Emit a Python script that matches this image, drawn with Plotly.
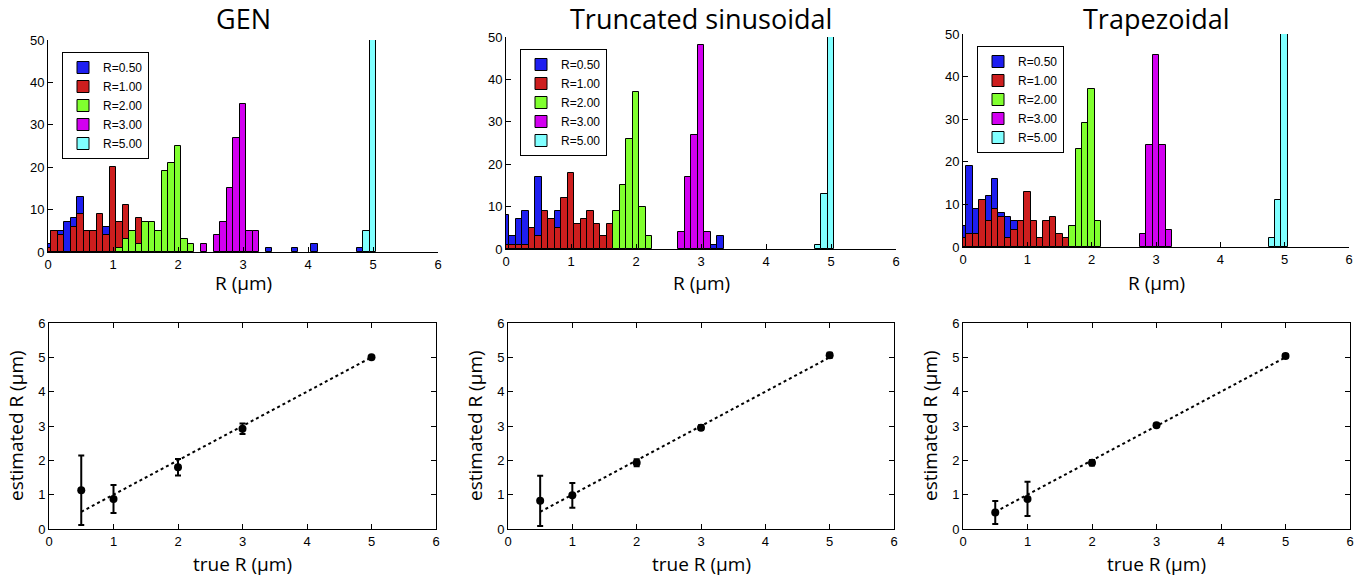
import plotly.graph_objects as go

W, H = 1368, 579

LABELS = ["R=0.50", "R=1.00", "R=2.00", "R=3.00", "R=5.00"]
COLORS = ["#1e1ef0", "#cd1e1e", "#80ff2e", "#d200f0", "#80ffff"]
PANEL_TITLES = ["GEN", "Truncated sinusoidal", "Trapezoidal"]

# histogram counts, bin centres in um (bin width 0.1)
gen_hist = {
    "R=0.50": ([0.0, 0.1, 0.2, 0.3, 0.4, 0.5, 0.6, 0.7, 0.8, 0.9, 1.0, 1.1, 1.2, 3.4, 3.8, 4.1, 4.8],
               [2, 5, 5, 7, 8, 13, 4, 5, 8, 6, 12, 5, 4, 1, 1, 2, 1]),
    "R=1.00": ([0.0, 0.1, 0.2, 0.4, 0.5, 0.6, 0.7, 0.8, 0.9, 1.0, 1.1, 1.2, 1.3, 1.4, 1.5],
               [1, 5, 4, 6, 9, 5, 5, 9, 4, 20, 7, 11, 3, 8, 3]),
    "R=2.00": ([1.1, 1.2, 1.3, 1.4, 1.5, 1.6, 1.7, 1.8, 1.9, 2.0, 2.1, 2.2],
               [1, 3, 5, 2, 7, 7, 5, 19, 21, 25, 3, 2]),
    "R=3.00": ([2.4, 2.6, 2.7, 2.8, 2.9, 3.0, 3.1, 3.2],
               [2, 4, 7, 15, 27, 35, 5, 5]),
    "R=5.00": ([4.9, 5.0], [5, 95]),
}
trunc_hist = {
    "R=0.50": ([0.0, 0.1, 0.2, 0.3, 0.4, 0.5, 0.6, 0.7, 0.8, 0.9, 1.0, 1.1, 1.2, 3.2, 3.3],
               [8, 3, 7, 9, 5, 17, 8, 6, 9, 10, 8, 4, 2, 1, 3]),
    "R=1.00": ([0.0, 0.1, 0.2, 0.3, 0.4, 0.5, 0.6, 0.7, 0.8, 0.9, 1.0, 1.1, 1.2, 1.3, 1.4, 1.5, 1.6],
               [1, 1, 1, 1, 5, 3, 9, 7, 5, 12, 18, 6, 7, 9, 6, 3, 6]),
    "R=2.00": ([1.7, 1.8, 1.9, 2.0, 2.1, 2.2], [9, 15, 26, 37, 10, 3]),
    "R=3.00": ([2.7, 2.8, 2.9, 3.0, 3.1], [4, 17, 27, 48, 4]),
    "R=5.00": ([4.8, 4.9, 5.0], [1, 13, 86]),
}
trap_hist = {
    "R=0.50": ([0.0, 0.1, 0.2, 0.3, 0.4, 0.5, 0.6, 0.7, 0.8, 0.9, 1.0],
               [5, 19, 9, 10, 12, 16, 8, 7, 6, 5, 3]),
    "R=1.00": ([0.0, 0.1, 0.2, 0.3, 0.4, 0.5, 0.6, 0.7, 0.8, 0.9, 1.0, 1.1, 1.2, 1.3, 1.4, 1.5, 1.6],
               [2, 3, 3, 11, 6, 9, 7, 2, 4, 6, 13, 6, 2, 6, 7, 3, 2]),
    "R=2.00": ([1.7, 1.8, 1.9, 2.0, 2.1], [5, 23, 29, 37, 6]),
    "R=3.00": ([2.8, 2.9, 3.0, 3.1, 3.2], [3, 24, 45, 24, 4]),
    "R=5.00": ([4.8, 4.9, 5.0], [2, 11, 87]),
}

# estimated vs true radius, mean and error bar half-length
true_r = [0.5, 1, 2, 3, 5]
gen_est = [1.13, 0.875, 1.80, 2.92, 5.00]
gen_err = [1.01, 0.41, 0.24, 0.15, 0.03]
trunc_est = [0.82, 0.98, 1.93, 2.95, 5.06]
trunc_err = [0.73, 0.36, 0.10, 0.07, 0.07]
trap_est = [0.48, 0.875, 1.93, 3.02, 5.04]
trap_err = [0.335, 0.50, 0.08, 0.05, 0.05]

x_ticks = [0, 1, 2, 3, 4, 5, 6]
hist_y_ticks = [0, 10, 20, 30, 40, 50]
est_y_ticks = [0, 1, 2, 3, 4, 5, 6]


def px_x(a, b):
    return [a / W, b / W]


def px_y(top, bottom):
    return [1 - bottom / H, 1 - top / H]


# pixel boxes of the six axes
top_boxes = [((48, 438), (40, 252)), ((506, 896), (37, 249)), ((963, 1349), (34, 247))]
bot_boxes = [((49, 436), (323, 529)), ((508, 894), (323, 529)), ((963, 1350), (323, 529))]

tick_font = dict(family="Liberation Sans, Arial", size=13, color="black")
label_font = dict(family="Open Sans", size=19, color="black")

fig = go.Figure()

hists = [gen_hist, trunc_hist, trap_hist]
for p, hist in enumerate(hists):
    ax = "" if p == 0 else str(p + 1)
    leg = "legend" if p == 0 else "legend" + str(p + 1)
    for lab, col in zip(LABELS, COLORS):
        xs, ns = hist[lab]
        fig.add_trace(go.Bar(
            x=xs, y=ns, width=0.1, name=lab,
            marker=dict(color=col, line=dict(color="black", width=1)),
            xaxis="x" + ax, yaxis="y" + ax, legend=leg,
        ))

ests = [(gen_est, gen_err), (trunc_est, trunc_err), (trap_est, trap_err)]
for p, (est, err) in enumerate(ests):
    ax = str(p + 4)
    fig.add_trace(go.Scatter(
        x=true_r, y=true_r, mode="lines",
        line=dict(color="black", width=2, dash="dot"),
        xaxis="x" + ax, yaxis="y" + ax, showlegend=False,
    ))
    fig.add_trace(go.Scatter(
        x=true_r, y=est, mode="markers",
        marker=dict(color="black", size=8),
        error_y=dict(type="data", array=err, color="black", thickness=2, width=3),
        xaxis="x" + ax, yaxis="y" + ax, showlegend=False,
    ))

layout = dict(
    template="none",
    width=W, height=H,
    margin=dict(l=0, r=0, t=0, b=0, autoexpand=False),
    paper_bgcolor="white", plot_bgcolor="white",
    barmode="overlay", bargap=0,
    showlegend=True,
)

axis_common = dict(
    showline=True, linecolor="black", linewidth=1, ticks="inside", ticklen=5,
    tickcolor="black", showgrid=False, zeroline=False, tickfont=tick_font,
    automargin=False,
)

for p, ((xa, xb), (yt, yb)) in enumerate(top_boxes):
    n = "" if p == 0 else str(p + 1)
    layout["xaxis" + n] = dict(domain=px_x(xa, xb), range=[0, 6], tickvals=x_ticks,
                               anchor="y" + n, **axis_common)
    layout["yaxis" + n] = dict(domain=px_y(yt, yb), range=[0, 50], tickvals=hist_y_ticks,
                               anchor="x" + n, **axis_common)
    leg = "legend" if p == 0 else "legend" + str(p + 1)
    layout[leg] = dict(
        x=(xa + 14) / W, y=1 - (yt + 12) / H, xanchor="left", yanchor="top",
        bgcolor="white", bordercolor="black", borderwidth=1,
        font=dict(family="Liberation Sans, Arial", size=12, color="black"),
        traceorder="normal", tracegroupgap=0, itemwidth=30,
    )

for p, ((xa, xb), (yt, yb)) in enumerate(bot_boxes):
    n = str(p + 4)
    layout["xaxis" + n] = dict(domain=px_x(xa, xb), range=[0, 6], tickvals=x_ticks,
                               anchor="y" + n, mirror="allticks", **axis_common)
    layout["yaxis" + n] = dict(domain=px_y(yt, yb), range=[0, 6], tickvals=est_y_ticks,
                               anchor="x" + n, mirror="allticks", **axis_common)

annotations = []
for p, ((xa, xb), (yt, yb)) in enumerate(top_boxes):
    mid = (xa + xb) / 2 / W
    annotations.append(dict(
        text=PANEL_TITLES[p], x=mid, y=1 - 19 / H, xref="paper", yref="paper",
        xanchor="center", yanchor="middle", showarrow=False,
        font=dict(family="Open Sans", size=27, color="black"),
    ))
    annotations.append(dict(
        text="R (\u03bcm)", x=mid, y=1 - 283 / H, xref="paper", yref="paper",
        xanchor="center", yanchor="middle", showarrow=False, font=label_font,
    ))
for p, ((xa, xb), (yt, yb)) in enumerate(bot_boxes):
    mid = (xa + xb) / 2 / W
    annotations.append(dict(
        text="true R (\u03bcm)", x=mid, y=1 - 564 / H, xref="paper", yref="paper",
        xanchor="center", yanchor="middle", showarrow=False, font=label_font,
    ))
    annotations.append(dict(
        text="estimated R (\u03bcm)", x=(xa - 33) / W, y=1 - 426 / H,
        xref="paper", yref="paper", xanchor="center", yanchor="middle",
        textangle=-90, showarrow=False, font=label_font,
    ))
layout["annotations"] = annotations

fig.update_layout(**layout)
# drop the browser's default body margin so the figure sits at the page corner
fig.write_html("out.html", config={"displayModeBar": False},
               post_script="document.body.style.margin='0';")
